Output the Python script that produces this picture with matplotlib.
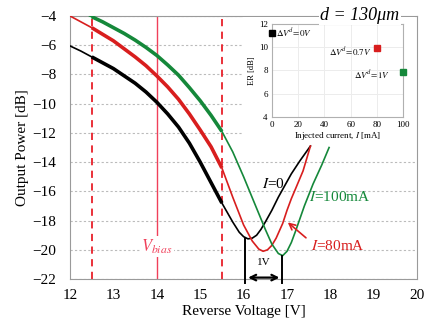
import matplotlib
matplotlib.use("Agg")
import matplotlib.pyplot as plt
import numpy as np
from matplotlib.patches import Rectangle

plt.rcParams['font.family'] = ['Liberation Serif', 'DejaVu Serif']
plt.rcParams['mathtext.fontset'] = 'stix'

# transmission curves (reverse voltage [V], power [dB])
v_i0 = [12.0, 12.25, 12.5, 12.75, 13.0, 13.25, 13.5, 13.75, 14.0, 14.25, 14.5, 14.75, 15.0, 15.25,
        15.5, 15.75, 15.9, 16.0, 16.1, 16.2, 16.3, 16.4, 16.5, 16.65, 16.8, 16.95, 17.1, 17.3, 17.54]
p_i0 = [-6.05, -6.4, -6.8, -7.2, -7.6, -8.1, -8.6, -9.2, -9.9, -10.7, -11.6, -12.7, -14.0, -15.4,
        -16.8, -18.1, -18.8, -19.1, -19.25, -19.2, -19.0, -18.6, -18.1, -17.3, -16.4, -15.6, -14.8, -13.9, -12.9]

v_i80 = [12.0, 12.25, 12.5, 12.75, 13.0, 13.25, 13.5, 13.75, 14.0, 14.25, 14.5, 14.75, 15.0, 15.25,
         15.5, 15.75, 16.0, 16.2, 16.35, 16.45, 16.55, 16.65, 16.75, 16.9, 17.0, 17.1, 17.2, 17.37, 17.54]
p_i80 = [-4.0, -4.4, -4.8, -5.25, -5.7, -6.25, -6.8, -7.4, -8.1, -8.85, -9.7, -10.7, -11.8, -12.95,
         -14.4, -16.4, -18.3, -19.4, -19.95, -20.1, -20.0, -19.7, -19.2, -18.2, -17.3, -16.5, -15.8, -14.6, -12.9]

v_i100 = [12.45, 12.5, 12.75, 13.0, 13.25, 13.5, 13.75, 14.0, 14.25, 14.5, 14.75, 15.0, 15.25, 15.5,
          15.75, 16.0, 16.25, 16.5, 16.65, 16.8, 16.9, 17.0, 17.1, 17.2, 17.4, 17.6, 17.8, 17.97]
p_i100 = [-4.0, -4.05, -4.4, -4.8, -5.2, -5.65, -6.15, -6.7, -7.35, -8.05, -8.9, -9.8, -10.8, -11.9,
          -13.3, -15.0, -16.8, -18.6, -19.6, -20.25, -20.4, -20.1, -19.5, -18.7, -17.0, -15.5, -14.2, -13.0]

# operating window and bias
v_window = [12.5, 15.5]
v_bias = 14.0
dip_i0 = (16.04, -19.2)
dip_i100 = (16.89, -20.4)

# inset: extinction ratio vs injected current
inj_current = [0, 80, 100]
er_db = [11.2, 9.9, 7.9]
er_labels = [r'$\Delta V^{d}\!=\!0V$', r'$\Delta V^{d}\!=\!0.7V$', r'$\Delta V^{d}\!=\!1V$']

c_black = '#000000'
c_red = '#d81e1e'
c_green = '#15883a'
c_dash = '#e8202a'
c_bias = '#f0405a'

fig = plt.figure(figsize=(4.27, 3.33), dpi=100)
ax = fig.add_axes([0.164, 0.162, 0.813, 0.79])

for v, p, c in [(v_i0, p_i0, c_black), (v_i80, p_i80, c_red), (v_i100, p_i100, c_green)]:
    v = np.array(v)
    p = np.array(p)
    ax.plot(v, p, color=c, lw=1.2, zorder=3)
    m = (v >= v_window[0]) & (v <= v_window[1])
    ax.plot(v[m], p[m], color=c, lw=2.6, zorder=3, solid_capstyle='butt')

for x in v_window:
    ax.axvline(x, color=c_dash, lw=1.3, ls=(0, (4, 3)), zorder=2)
ax.axvline(v_bias, color=c_bias, lw=1.0, zorder=2)
ax.text(v_bias, -19.8, r'$V_{bias}$', color=c_bias, fontsize=12, ha='center', va='center',
        bbox=dict(facecolor='white', edgecolor='none', pad=1), zorder=4)

ax.set_xlim(12, 20)
ax.set_ylim(-22, -4)
ax.set_xticks(np.arange(12, 21, 1))
ax.set_yticks(np.arange(-22, -3, 2))
ax.tick_params(length=0, labelsize=11, colors='black')
ax.tick_params(axis='y', pad=10)
ax.tick_params(axis='x', pad=7)
ax.yaxis.grid(True, color='#bbbbbb', ls=(0, (2, 2)), lw=0.8)
ax.set_axisbelow(True)
for s in ax.spines.values():
    s.set_color('#9a9a9a')
ax.set_xlabel('Reverse Voltage [V]', fontsize=11, labelpad=2)
ax.set_ylabel('Output Power [dB]', fontsize=11, labelpad=2)

# labels of the curves
ax.text(16.43, -15.5, r'$I$=0', color=c_black, fontsize=11, va='center')
ax.text(17.5, -16.4, r'$I$=100mA', color=c_green, fontsize=11, va='center')
ax.annotate(r'$I$=80mA', xy=(16.97, -18.0), xytext=(17.55, -19.75), color=c_red, fontsize=11,
            va='center', arrowprops=dict(arrowstyle='->', color=c_red, lw=1.2, relpos=(0, 0.8)))

# 1V shift marker
for x, y in [dip_i0, dip_i100]:
    ax.plot([x, x], [y, -22.3], color='black', lw=1.4, clip_on=False, zorder=4)
ax.annotate('', xy=(dip_i0[0], -21.9), xytext=(dip_i100[0], -21.9),
            arrowprops=dict(arrowstyle='<->', color='black', lw=1.6), annotation_clip=False)
ax.text((dip_i0[0] + dip_i100[0]) / 2, -20.85, '1V', fontsize=8, ha='center', va='center')

# white area behind the inset
fig.patches.append(Rectangle((243 / 427, 1 - 137 / 333), 172 / 427, 120 / 333,
                             transform=fig.transFigure, facecolor='white', edgecolor='none', zorder=0.5))

ins = fig.add_axes([0.637, 0.649, 0.307, 0.279], zorder=1)
ins.set_xlim(0, 100)
ins.set_ylim(4, 12)
ins.set_xticks(np.arange(0, 101, 20))
ins.set_yticks(np.arange(4, 13, 2))
ins.grid(True, color='#ececec', lw=0.7)
ins.set_axisbelow(True)
ins.tick_params(length=0, labelsize=6.5, pad=3)
for s in ins.spines.values():
    s.set_color('#b0b0b0')
ins.set_xlabel(r'Injected current, $I$ [mA]', fontsize=6.5, labelpad=1)
ins.set_ylabel('ER [dB]', fontsize=6, labelpad=2)
for x, y, c in zip(inj_current, er_db, [c_black, c_red, c_green]):
    ins.plot(x, y, 's', color=c, ms=4, clip_on=False, zorder=3)
ins.text(3, er_db[0], er_labels[0], fontsize=6.5, va='center', ha='left')
ins.text(76, er_db[1] - 0.3, er_labels[1], fontsize=6.5, va='center', ha='right')
ins.text(90, er_db[2] - 0.3, er_labels[2], fontsize=6.5, va='center', ha='right')

fig.text(360 / 427, 1 - 15 / 333, 'd = 130μm', fontsize=13, style='italic', ha='center', va='center',
         bbox=dict(facecolor='white', edgecolor='none', pad=1), zorder=2)

fig.savefig('out.png', dpi=100)
